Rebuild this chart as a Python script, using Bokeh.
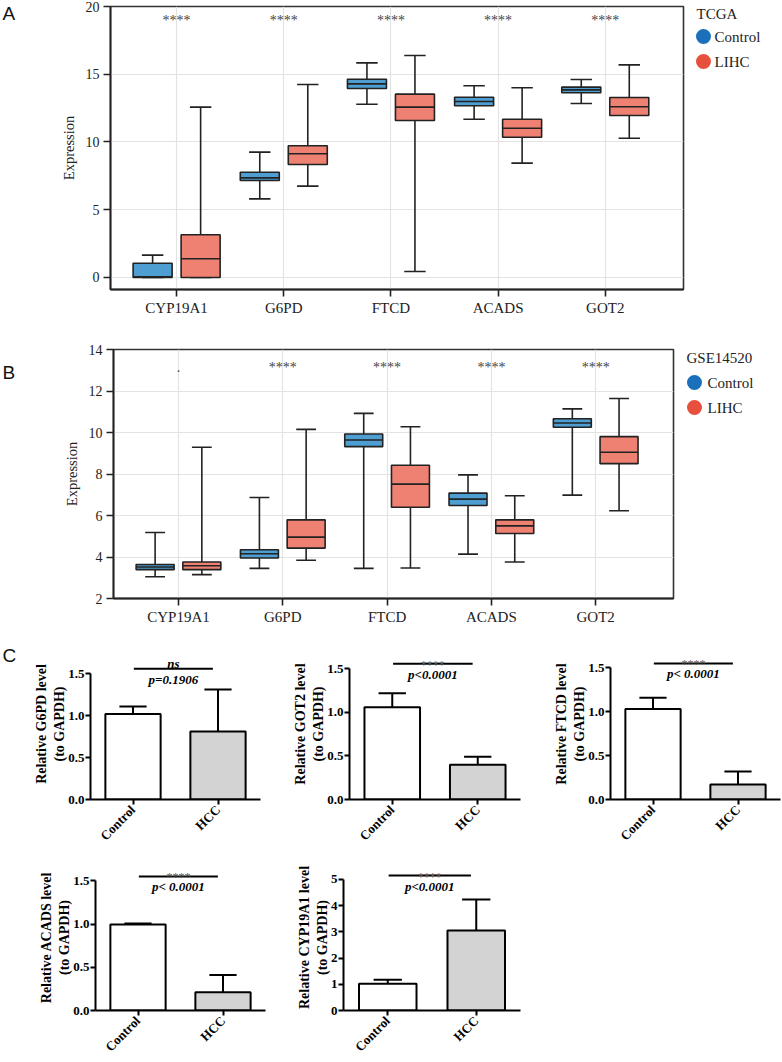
from math import pi
import numpy as np
from bokeh.plotting import figure
from bokeh.layouts import column, row
from bokeh.models import Range1d, FixedTicker, NumeralTickFormatter
from bokeh.core.properties import value
from bokeh.embed import file_html
from bokeh.resources import INLINE

# ---------------- data ----------------
genes = ["CYP19A1", "G6PD", "FTCD", "ACADS", "GOT2"]
groups = ["Control", "LIHC"]

# Panel A (TCGA): whisker min, Q1, median, Q3, whisker max
tcga_ctrl_min = [0.00, 5.80, 12.79, 11.68, 12.84]
tcga_ctrl_q1 = [0.00, 7.16, 13.95, 12.67, 13.63]
tcga_ctrl_med = [0.05, 7.35, 14.29, 12.99, 13.85]
tcga_ctrl_q3 = [1.05, 7.77, 14.63, 13.30, 14.05]
tcga_ctrl_max = [1.65, 9.25, 15.84, 14.15, 14.61]
tcga_lihc_min = [0.00, 6.74, 0.44, 8.44, 10.28]
tcga_lihc_q1 = [0.00, 8.34, 11.59, 10.35, 11.96]
tcga_lihc_med = [1.38, 9.13, 12.57, 11.02, 12.60]
tcga_lihc_q3 = [3.15, 9.72, 13.53, 11.68, 13.28]
tcga_lihc_max = [12.57, 14.24, 16.38, 14.00, 15.69]
tcga_sig = ["****", "****", "****", "****", "****"]

# Panel B (GSE14520)
geo_ctrl_min = [3.05, 3.45, 3.45, 4.14, 6.98]
geo_ctrl_q1 = [3.39, 3.95, 9.32, 6.48, 10.25]
geo_ctrl_med = [3.52, 4.16, 9.64, 6.79, 10.46]
geo_ctrl_q3 = [3.64, 4.35, 9.93, 7.08, 10.66]
geo_ctrl_max = [5.18, 6.87, 10.92, 7.96, 11.14]
geo_lihc_min = [3.15, 3.84, 3.47, 3.76, 6.23]
geo_lihc_q1 = [3.39, 4.43, 6.40, 5.13, 8.50]
geo_lihc_med = [3.58, 4.96, 7.51, 5.50, 9.05]
geo_lihc_q3 = [3.76, 5.79, 8.42, 5.79, 9.80]
geo_lihc_max = [9.29, 10.15, 10.28, 6.95, 11.64]
geo_sig = [".", "****", "****", "****", "****"]

# Panel C (qPCR)
c_genes = ["G6PD", "GOT2", "FTCD", "ACADS", "CYP19A1"]
c_groups = ["Control", "HCC"]
c_ctrl_mean = [1.02, 1.06, 1.03, 0.995, 1.02]
c_ctrl_err = [0.09, 0.16, 0.13, 0.01, 0.15]
c_hcc_mean = [0.81, 0.40, 0.17, 0.21, 3.05]
c_hcc_err = [0.50, 0.09, 0.15, 0.20, 1.18]
c_sig = ["ns", "****", "****", "****", "****"]
c_p = ["p=0.1906", "p<0.0001", "p< 0.0001", "p< 0.0001", "p<0.0001"]
c_line_y = [1.56, 1.56, 1.55, 1.55, 5.15]
c_yticks = [[0, 0.5, 1.0, 1.5]] * 4 + [[0, 1, 2, 3, 4, 5]]

panel_letters = ["A", "B", "C"]

# ---------------- style ----------------
SERIF = "Liberation Serif"
SERIF_V = value(SERIF)
BLUE_BOX = "#4E9ED1"
RED_BOX = "#EF8172"
BLUE_DOT = "#1B70BC"
RED_DOT = "#E7503C"
INK = "#222222"


def blank_figure(width, height, top, bottom):
    # frame is aligned with the neighbouring plot's frame; y data = pixels from figure top
    f = figure(width=width, height=height, x_range=Range1d(0, width),
               y_range=Range1d(height - bottom, top),
               x_axis_type=None, y_axis_type=None, min_border_left=0, min_border_right=0,
               min_border_top=top, min_border_bottom=bottom,
               output_backend="svg", toolbar_location=None)
    f.outline_line_color = None
    f.grid.visible = False
    return f


def letter_figure(width, height, top, bottom, letter, cy):
    f = blank_figure(width, height, top, bottom)
    f.text(x=[2], y=[cy], text=[letter], text_font=value("Liberation Sans"),
           text_font_size="19px", text_color="#111111", text_baseline="middle", text_align="left")
    return f


def legend_figure(width, height, top, bottom, title, title_xy, cx, cys, lx):
    f = blank_figure(width, height, top, bottom)
    f.text(x=[title_xy[0]], y=[title_xy[1]], text=[title], text_font=SERIF_V,
           text_font_size="15px", text_color=INK, text_baseline="middle", text_align="left")
    f.scatter(x=[cx, cx], y=cys, size=15, color=[BLUE_DOT, RED_DOT], line_color=None)
    f.text(x=[lx, lx], y=cys, text=groups, text_font=SERIF_V, text_font_size="15px",
           text_color=INK, text_baseline="middle", text_align="left")
    return f


def box_figure(width, height, xr, yr, borders, yticks):
    left, right, top, bottom = borders
    p = figure(width=width, height=height, x_range=Range1d(*xr), y_range=Range1d(*yr),
               min_border_left=left, min_border_right=right, min_border_top=top,
               min_border_bottom=bottom, output_backend="svg", toolbar_location=None)
    p.outline_line_color = "#333333"
    p.outline_line_width = 1.6
    xt = FixedTicker(ticks=list(range(1, len(genes) + 1)))
    yt = FixedTicker(ticks=yticks)
    p.xaxis.ticker = xt
    p.yaxis.ticker = yt
    p.xgrid.ticker = xt
    p.ygrid.ticker = yt
    p.xaxis.major_label_overrides = {i + 1: g for i, g in enumerate(genes)}
    p.grid.grid_line_color = "#E3E3E3"
    p.grid.grid_line_width = 1.2
    for ax in (p.xaxis, p.yaxis):
        ax.axis_line_color = INK
        ax.axis_line_width = 1.8
        ax.major_tick_line_color = INK
        ax.major_tick_line_width = 1.6
        ax.major_tick_out = 7
        ax.major_tick_in = 0
        ax.minor_tick_line_color = None
        ax.major_label_text_font = SERIF
        ax.major_label_text_color = INK
        ax.major_label_standoff = 4
    p.xaxis.major_label_text_font_size = "15px"
    p.xaxis.major_label_standoff = 3
    p.yaxis.major_label_text_font_size = "14px"
    p.yaxis.axis_label = "Expression"
    p.yaxis.axis_label_text_font = SERIF
    p.yaxis.axis_label_text_font_size = "14.5px"
    p.yaxis.axis_label_text_font_style = "normal"
    p.yaxis.axis_label_text_color = INK
    p.yaxis.axis_label_standoff = 6
    return p


def draw_boxes(p, xs, mn, q1, med, q3, mx, fill, bw=0.364, cap=0.1):
    xs = np.asarray(xs, dtype=float)
    lw = 1.6
    p.segment(xs, q3, xs, mx, line_color=INK, line_width=lw)
    p.segment(xs, q1, xs, mn, line_color=INK, line_width=lw)
    p.segment(xs - cap, mx, xs + cap, mx, line_color=INK, line_width=lw)
    p.segment(xs - cap, mn, xs + cap, mn, line_color=INK, line_width=lw)
    p.vbar(x=xs, width=bw, bottom=q1, top=q3, fill_color=fill, line_color=INK, line_width=lw)
    p.segment(xs - bw / 2, med, xs + bw / 2, med, line_color=INK, line_width=lw)


x_idx = np.arange(1, len(genes) + 1)
OFF = 0.224

# ---------------- Panel A ----------------
A_H, A_T, A_B = 322, 6, 33
pA = box_figure(668, A_H, (0.383, 5.73), (-0.886, 20), (90, 5, A_T, A_B), [0, 5, 10, 15, 20])
draw_boxes(pA, x_idx - OFF, tcga_ctrl_min, tcga_ctrl_q1, tcga_ctrl_med, tcga_ctrl_q3, tcga_ctrl_max, BLUE_BOX, cap=0.1)
draw_boxes(pA, x_idx + OFF, tcga_lihc_min, tcga_lihc_q1, tcga_lihc_med, tcga_lihc_q3, tcga_lihc_max, RED_BOX, cap=0.1)
pA.text(x=x_idx, y=[19.0] * len(genes), text=tcga_sig, text_font=SERIF_V, text_font_size="14px",
        text_color="#444444", text_align="center", text_baseline="middle")
letA = letter_figure(20, A_H, A_T, A_B, panel_letters[0], 12.5)
legA = legend_figure(94, A_H, A_T, A_B, "TCGA", (8, 13.5), 15, [36, 61], 26)

# ---------------- Panel B ----------------
B_H, B_T, B_B = 306, 27, 30
pB = box_figure(658, B_H, (0.377, 5.746), (2, 14), (93, 5, B_T, B_B), [2, 4, 6, 8, 10, 12, 14])
draw_boxes(pB, x_idx - OFF, geo_ctrl_min, geo_ctrl_q1, geo_ctrl_med, geo_ctrl_q3, geo_ctrl_max, BLUE_BOX, cap=0.095)
draw_boxes(pB, x_idx + OFF, geo_lihc_min, geo_lihc_q1, geo_lihc_med, geo_lihc_q3, geo_lihc_max, RED_BOX, cap=0.095)
pB.text(x=x_idx, y=[13.15] * len(genes), text=geo_sig, text_font=SERIF_V, text_font_size="14px",
        text_color="#444444", text_align="center", text_baseline="middle")
letB = letter_figure(20, B_H, B_T, B_B, panel_letters[1], 49.5)
legB = legend_figure(104, B_H, B_T, B_B, "GSE14520", (8, 35.3), 16, [60, 85], 29)

# ---------------- Panel C ----------------
# (width, height, border left, right, top, bottom, y max)
c_geom = [
    (250, 224, 70, 10, 20, 51, 1.80),
    (260, 224, 79, 10, 20, 53, 1.734),
    (252, 224, 80, 2, 20, 53, 1.72),
    (270, 210, 95, 5, 12, 51, 1.688),
    (260, 210, 73, 10, 12, 51, 5.57),
]
SIG_X0, SIG_X1 = 1.01, 1.94

c_figs = []
for k, gene in enumerate(c_genes):
    w, h, bl, br, bt, bb, ytop = c_geom[k]
    p = figure(width=w, height=h, x_range=Range1d(0.5, 2.5), y_range=Range1d(0, ytop),
               min_border_left=bl, min_border_right=br, min_border_top=bt, min_border_bottom=bb,
               output_backend="svg", toolbar_location=None)
    p.outline_line_color = None
    p.grid.visible = False
    yt = c_yticks[k]
    p.xaxis.ticker = FixedTicker(ticks=[1, 2])
    p.xaxis.major_label_overrides = {1: c_groups[0], 2: c_groups[1]}
    p.xaxis.major_label_orientation = pi / 4
    p.yaxis.ticker = FixedTicker(ticks=yt)
    p.yaxis.bounds = (yt[0], yt[-1])
    if yt[-1] < 2:
        p.yaxis.formatter = NumeralTickFormatter(format="0.0")
    for ax in (p.xaxis, p.yaxis):
        ax.axis_line_color = "black"
        ax.axis_line_width = 2
        ax.major_tick_line_color = "black"
        ax.major_tick_line_width = 2
        ax.major_tick_out = 5
        ax.major_tick_in = 0
        ax.minor_tick_line_color = None
        ax.major_label_text_font = SERIF
        ax.major_label_text_font_style = "bold"
        ax.major_label_text_font_size = "13px"
        ax.major_label_text_color = "black"
        ax.major_label_standoff = 3
    p.yaxis.major_label_standoff = 1
    p.yaxis.axis_label = "Relative %s level\n(to GAPDH)" % gene
    p.yaxis.axis_label_text_font = SERIF
    p.yaxis.axis_label_text_font_style = "bold"
    p.yaxis.axis_label_text_font_size = "14px"
    p.yaxis.axis_label_text_color = "black"
    p.yaxis.axis_label_standoff = -2

    xs = np.array([1.0, 2.0])
    means = np.array([c_ctrl_mean[k], c_hcc_mean[k]])
    errs = np.array([c_ctrl_err[k], c_hcc_err[k]])
    cap = 0.16
    p.segment(xs, means, xs, means + errs, line_color="black", line_width=2)
    p.segment(xs - cap, means + errs, xs + cap, means + errs, line_color="black", line_width=2)
    p.vbar(x=xs, width=0.65, top=means, bottom=0, fill_color=["white", "#D3D3D3"],
           line_color="black", line_width=2)

    ly = c_line_y[k]
    xm = (SIG_X0 + SIG_X1) / 2
    p.segment([SIG_X0], [ly], [SIG_X1], [ly], line_color="black", line_width=2)
    if c_sig[k] == "ns":
        p.text(x=[xm], y=[ly], text=[c_sig[k]], text_font=SERIF_V, text_font_size="13px",
               text_font_style="bold italic", text_color="black", text_align="center",
               text_baseline="alphabetic", y_offset=-5)
    else:
        p.text(x=[xm], y=[ly], text=[c_sig[k]], text_font=SERIF_V, text_font_size="12px",
               text_color="#555555", text_align="center", text_baseline="alphabetic", y_offset=1)
    p.text(x=[xm], y=[ly], text=[c_p[k]], text_font=SERIF_V, text_font_size="13px",
           text_font_style="bold italic", text_color="black", text_align="center",
           text_baseline="top", y_offset=3)
    c_figs.append(p)

letC = letter_figure(20, 224, 20, 51, panel_letters[2], 27)

layout = column(
    row(letA, pA, legA, spacing=0),
    row(letB, pB, legB, spacing=0),
    row(letC, c_figs[0], c_figs[1], c_figs[2], spacing=0),
    row(c_figs[3], c_figs[4], spacing=0),
    spacing=0,
)

open("out.html", "w").write(file_html(layout, INLINE))
